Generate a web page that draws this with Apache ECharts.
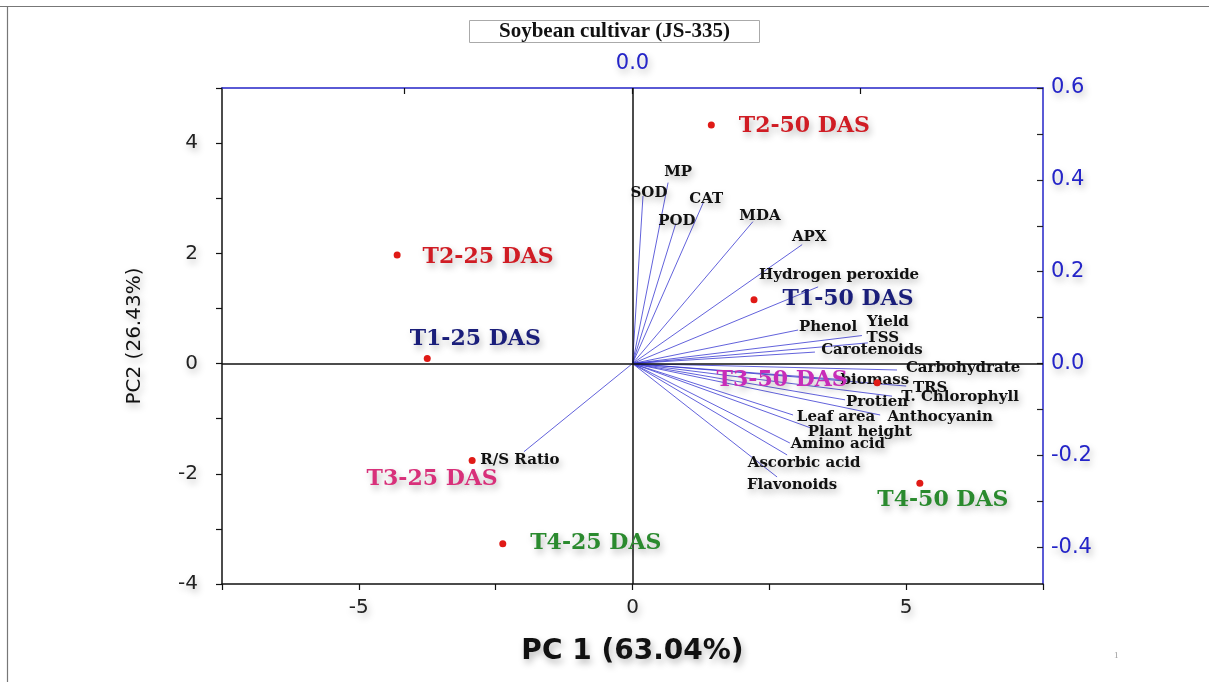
<!DOCTYPE html>
<html><head><meta charset="utf-8">
<script src="https://cdn.jsdelivr.net/npm/echarts@6/dist/echarts.min.js"></script>
<style>html,body{margin:0;padding:0;background:#fff}#c{width:1209px;height:682px}</style>
</head><body><div id="c"></div>
<script>
// ---- data: PCA scores (treatments) ----
const scoreNames = ['T1-25 DAS','T2-25 DAS','T3-25 DAS','T4-25 DAS','T1-50 DAS','T2-50 DAS','T3-50 DAS','T4-50 DAS'];
const scorePC1 = [-3.75, -4.30, -2.93, -2.37, 2.22, 1.44, 4.47, 5.25];
const scorePC2 = [0.09, 1.97, -1.76, -3.27, 1.16, 4.33, -0.35, -2.17];

// ---- data: PCA loadings (variables) ----
const varNames = ['SOD','MP','CAT','POD','MDA','APX','Hydrogen peroxide','Phenol','Yield','TSS','Carotenoids',
  'Carbohydrate','biomass','TRS','T. Chlorophyll','Protien','Leaf area','Anthocyanin','Plant height','Amino acid',
  'Ascorbic acid','Flavonoids','R/S Ratio'];
const loadPC1 = [0.023, 0.078, 0.155, 0.095, 0.264, 0.372, 0.407, 0.363, 0.503, 0.516, 0.400,
  0.580, 0.472, 0.600, 0.569, 0.466, 0.352, 0.543, 0.393, 0.345, 0.339, 0.317, -0.238];
const loadPC2 = [0.365, 0.394, 0.350, 0.305, 0.309, 0.259, 0.167, 0.073, 0.061, 0.045, 0.025,
  -0.014, -0.036, -0.049, -0.071, -0.079, -0.112, -0.112, -0.141, -0.173, -0.199, -0.247, -0.192];

// ---- tick labels ----
const bottomTickLabels = [-5, 0, 5];
const leftTickLabels = [-4, -2, 0, 2, 4];
const rightTickLabels = [-0.4, -0.2, 0, 0.2, 0.4, 0.6];
const rightTicks = [-0.4, -0.3, -0.2, -0.1, 0, 0.1, 0.2, 0.3, 0.4, 0.5, 0.6];
const topTickLabels = [0];
const topTicks = [-0.5, 0, 0.5];

// ---- styles (not data) ----
const scoreColor = {
  'T1-25 DAS':'#1a1e7a','T2-25 DAS':'#d01c24','T3-25 DAS':'#d8307a','T4-25 DAS':'#2a8a2e',
  'T1-50 DAS':'#1a1e7a','T2-50 DAS':'#d01c24','T3-50 DAS':'#c82cb8','T4-50 DAS':'#2a8a2e'
};
const scoreLabelOffset = {
  'T1-25 DAS':[48,-19],'T2-25 DAS':[91,2],'T3-25 DAS':[-40,19],'T4-25 DAS':[93,0],
  'T1-50 DAS':[94,0],'T2-50 DAS':[93,1],'T3-50 DAS':[-95,-3],'T4-50 DAS':[23,17]
};
const varLabelOffset = {
  'SOD':[6,-3],'MP':[10,-10],'CAT':[3,-4],'POD':[1,-2],'MDA':[7,-6],'APX':[7,-7],
  'Hydrogen peroxide':[21,-12],'Phenol':[30,-3],'Yield':[26,-13],'TSS':[15,-5],'Carotenoids':[57,-2],
  'Carbohydrate':[66,-2],'biomass':[27,0],'TRS':[24,2],'T. Chlorophyll':[68,1],'Protien':[32,2],
  'Leaf area':[43,2],'Anthocyanin':[60,2],'Plant height':[48,4],'Amino acid':[48,1],
  'Ascorbic acid':[17,8],'Flavonoids':[15,8],'R/S Ratio':[-4,8]
};
const shadow = {textShadowColor:'rgba(0,0,0,0.28)', textShadowBlur:7, textShadowOffsetX:2, textShadowOffsetY:4};
const blue = '#2424c8';

const chart = echarts.init(document.getElementById('c'), null, {renderer:'canvas'});
const option = {
  animation: false,
  backgroundColor: '#fff',
  title: {
    text: 'Soybean cultivar (JS-335)',
    left: 469, top: 20,
    padding: [1, 30, 1, 30],
    borderWidth: 1, borderColor: '#aaa',
    textStyle: {fontFamily:'Liberation Serif', fontWeight:'bold', fontSize:21, color:'#111'}
  },
  grid: {left: 222, right: 166, top: 88, bottom: 98, containLabel: false},
  xAxis: [
    {
      type:'value', position:'bottom', min:-7.5, max:7.5, interval:2.5,
      name:'PC 1 (63.04%)', nameLocation:'middle', nameGap:54,
      nameTextStyle:Object.assign({fontFamily:'DejaVu Sans', fontWeight:'bold', fontSize:28, color:'#111'}, shadow),
      axisLine:{onZero:false, lineStyle:{color:'#111', width:1.5}},
      axisTick:{inside:false, length:6, lineStyle:{color:'#111', width:1.2}},
      axisLabel:Object.assign({margin:14, fontFamily:'DejaVu Sans', fontSize:20, color:'#222',
        formatter: v => bottomTickLabels.includes(v) ? String(v) : ''}, shadow),
      splitLine:{show:false}
    },
    {
      type:'value', position:'top', min:-0.9, max:0.9,
      axisLine:{onZero:false, lineStyle:{color:blue, width:1.5}},
      axisTick:{inside:true, length:6, customValues: topTicks, lineStyle:{color:'#111', width:1.2}},
      axisLabel:Object.assign({margin:14, fontFamily:'DejaVu Sans', fontSize:21, color:blue,
        customValues: topTickLabels, formatter: v => v.toFixed(1)}, shadow),
      splitLine:{show:false}
    }
  ],
  yAxis: [
    {
      type:'value', position:'left', min:-4, max:5, interval:1,
      name:'PC2 (26.43%)', nameLocation:'middle', nameGap:77, nameRotate:90,
      nameTextStyle:Object.assign({fontFamily:'DejaVu Sans', fontSize:20, color:'#111'}, shadow),
      axisLine:{onZero:false, lineStyle:{color:'#111', width:1.5}},
      axisTick:{inside:false, length:6, lineStyle:{color:'#111', width:1.2}},
      axisLabel:Object.assign({margin:24, fontFamily:'DejaVu Sans', fontSize:20, color:'#222',
        formatter: v => leftTickLabels.includes(v) ? String(v) : ''}, shadow),
      splitLine:{show:false}
    },
    {
      type:'value', position:'right', min:-0.48, max:0.6,
      axisLine:{onZero:false, lineStyle:{color:blue, width:1.5}},
      axisTick:{inside:true, length:6, customValues: rightTicks, lineStyle:{color:'#222', width:1.2}},
      axisLabel:Object.assign({margin:8, fontFamily:'DejaVu Sans', fontSize:21, color:blue,
        customValues: rightTickLabels, formatter: v => v.toFixed(1)}, shadow),
      splitLine:{show:false}
    }
  ],
  series: [
    {
      type:'lines', coordinateSystem:'cartesian2d', xAxisIndex:1, yAxisIndex:1,
      silent:true, z:2,
      lineStyle:{color:'#3030d0', width:0.85, opacity:0.9, curveness:0},
      data: varNames.map((n,i) => ({coords:[[0,0],[loadPC1[i], loadPC2[i]]]}))
    },
    {
      type:'scatter', xAxisIndex:1, yAxisIndex:1, symbolSize:1, silent:true, z:4,
      itemStyle:{color:'rgba(0,0,0,0)', opacity:1},
      emphasis:{disabled:true},
      label:Object.assign({show:true, position:'inside', formatter: p => p.name, opacity:1,
        fontFamily:'DejaVu Serif', fontWeight:'bold', fontSize:15, color:'#111'}, shadow),
      data: varNames.map((n,i) => ({name:n, value:[loadPC1[i], loadPC2[i]], label:{offset: varLabelOffset[n]}}))
    },
    {
      type:'scatter', xAxisIndex:0, yAxisIndex:0, symbolSize:7, z:5, silent:true,
      itemStyle:{color:'#e01a16', opacity:1},
      emphasis:{disabled:true},
      label:Object.assign({show:true, position:'inside', formatter: p => p.name, opacity:1,
        fontFamily:'DejaVu Serif', fontWeight:'bold', fontSize:22}, shadow),
      data: scoreNames.map((n,i) => ({name:n, value:[scorePC1[i], scorePC2[i]],
        label:{offset: scoreLabelOffset[n], color: scoreColor[n]}})),
      markLine:{silent:true, symbol:'none', animation:false, label:{show:false},
        lineStyle:{color:'#111', width:1.5, type:'solid', opacity:1},
        data:[{xAxis:0},{yAxis:0}]}
    }
  ],
  graphic: [
    {type:'line', shape:{x1:0, y1:6.5, x2:1209, y2:6.5}, style:{stroke:'#777', lineWidth:1.2}, silent:true},
    {type:'line', shape:{x1:7.5, y1:6.5, x2:7.5, y2:682}, style:{stroke:'#777', lineWidth:1.2}, silent:true},
    {type:'text', left:1114, top:651, style:{text:'1', fontSize:9, fill:'#999', fontFamily:'Liberation Serif'}, silent:true}
  ]
};
chart.setOption(option);
</script>
</body></html>
